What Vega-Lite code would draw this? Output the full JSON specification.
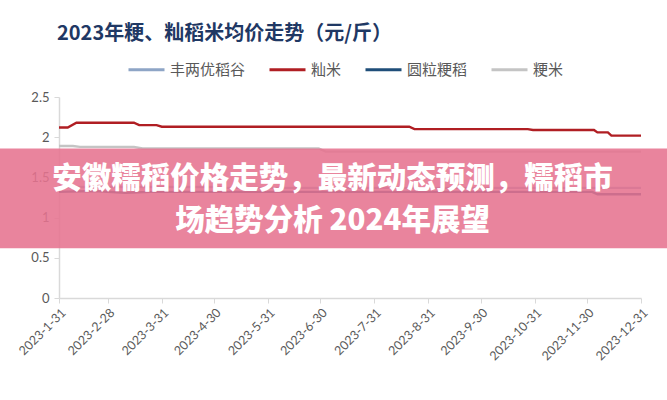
{
  "$schema": "https://vega.github.io/schema/vega-lite/v6.json",
  "width": 582,
  "height": 201,
  "autosize": {"type": "none"},
  "padding": {"left": 59, "top": 97, "right": 26, "bottom": 102},
  "background": "#ffffff",
  "config": {"view": {"stroke": null}, "font": "Noto Sans CJK SC"},
  "title": {
    "text": "2023年粳、籼稻米均价走势（元/斤）",
    "anchor": "start",
    "frame": "group",
    "fontSize": 20,
    "fontWeight": "bold",
    "color": "#1F3864",
    "font": "Noto Sans CJK SC",
    "offset": 6,
    "dx": -2
  },
  "datasets": {
    "prices": [
      {"series": "丰两优稻谷", "date": "2023-01-31", "price": 1.38},
      {"series": "丰两优稻谷", "date": "2023-04-30", "price": 1.38},
      {"series": "丰两优稻谷", "date": "2023-05-05", "price": 1.37},
      {"series": "丰两优稻谷", "date": "2023-12-31", "price": 1.37},
      {"series": "籼米", "date": "2023-01-31", "price": 2.12},
      {"series": "籼米", "date": "2023-02-05", "price": 2.12},
      {"series": "籼米", "date": "2023-02-10", "price": 2.18},
      {"series": "籼米", "date": "2023-03-15", "price": 2.18},
      {"series": "籼米", "date": "2023-03-18", "price": 2.15},
      {"series": "籼米", "date": "2023-03-28", "price": 2.15},
      {"series": "籼米", "date": "2023-03-31", "price": 2.13},
      {"series": "籼米", "date": "2023-08-20", "price": 2.13},
      {"series": "籼米", "date": "2023-08-23", "price": 2.1},
      {"series": "籼米", "date": "2023-10-27", "price": 2.1},
      {"series": "籼米", "date": "2023-10-30", "price": 2.09},
      {"series": "籼米", "date": "2023-12-04", "price": 2.09},
      {"series": "籼米", "date": "2023-12-06", "price": 2.06},
      {"series": "籼米", "date": "2023-12-12", "price": 2.06},
      {"series": "籼米", "date": "2023-12-14", "price": 2.02},
      {"series": "籼米", "date": "2023-12-31", "price": 2.02},
      {"series": "圆粒粳稻", "date": "2023-01-31", "price": 1.32},
      {"series": "圆粒粳稻", "date": "2023-02-20", "price": 1.33},
      {"series": "圆粒粳稻", "date": "2023-03-10", "price": 1.31},
      {"series": "圆粒粳稻", "date": "2023-03-25", "price": 1.32},
      {"series": "圆粒粳稻", "date": "2023-12-03", "price": 1.32},
      {"series": "圆粒粳稻", "date": "2023-12-06", "price": 1.29},
      {"series": "圆粒粳稻", "date": "2023-12-31", "price": 1.29},
      {"series": "粳米", "date": "2023-01-31", "price": 1.89},
      {"series": "粳米", "date": "2023-02-08", "price": 1.89},
      {"series": "粳米", "date": "2023-02-12", "price": 1.88},
      {"series": "粳米", "date": "2023-03-15", "price": 1.88},
      {"series": "粳米", "date": "2023-03-20", "price": 1.86},
      {"series": "粳米", "date": "2023-06-29", "price": 1.86},
      {"series": "粳米", "date": "2023-07-03", "price": 1.82},
      {"series": "粳米", "date": "2023-12-31", "price": 1.82}
    ],
    "banner": [
      {"date": "2022-12-10", "date2": "2024-02-01", "price": 0.62, "price2": 1.86}
    ],
    "caption": [
      {"date": "2023-07-07", "price": 1.48, "text": "安徽糯稻价格走势，最新动态预测，糯稻市"},
      {"date": "2023-07-07", "price": 0.96, "text": "场趋势分析 2024年展望"}
    ]
  },
  "layer": [
    {
      "data": {"name": "prices"},
      "mark": {"type": "line", "strokeWidth": 2.4},
      "encoding": {
        "x": {
          "field": "date",
          "type": "temporal",
          "scale": {
            "type": "utc",
            "domain": [
              {"year": 2023, "month": 1, "date": 31, "utc": true},
              {"year": 2023, "month": 12, "date": 31, "utc": true}
            ]
          },
          "axis": {
            "title": null,
            "values": [
              {"year": 2023, "month": 1, "date": 31, "utc": true},
              {"year": 2023, "month": 2, "date": 28, "utc": true},
              {"year": 2023, "month": 3, "date": 31, "utc": true},
              {"year": 2023, "month": 4, "date": 30, "utc": true},
              {"year": 2023, "month": 5, "date": 31, "utc": true},
              {"year": 2023, "month": 6, "date": 30, "utc": true},
              {"year": 2023, "month": 7, "date": 31, "utc": true},
              {"year": 2023, "month": 8, "date": 31, "utc": true},
              {"year": 2023, "month": 9, "date": 30, "utc": true},
              {"year": 2023, "month": 10, "date": 31, "utc": true},
              {"year": 2023, "month": 11, "date": 30, "utc": true},
              {"year": 2023, "month": 12, "date": 31, "utc": true}
            ],
            "labelExpr": "utcFormat(datum.value, '%Y-%-m-%-d')",
            "labelAngle": -45,
            "labelFont": "Lato",
            "labelFontSize": 12.5,
            "labelColor": "#595959",
            "labelOverlap": false,
            "labelFlush": false,
            "labelPadding": 3,
            "domainColor": "#D9D9D9",
            "domainWidth": 1.5,
            "tickColor": "#D9D9D9",
            "tickSize": 5,
            "grid": false
          }
        },
        "y": {
          "field": "price",
          "type": "quantitative",
          "scale": {"domain": [0, 2.5], "nice": false, "zero": true},
          "axis": {
            "title": null,
            "values": [0, 0.5, 1, 1.5, 2, 2.5],
            "format": "~g",
            "labelOverlap": false,
            "labelFont": "Lato",
            "labelFontSize": 13,
            "labelColor": "#595959",
            "labelPadding": 5,
            "domainColor": "#D9D9D9",
            "domainWidth": 1.5,
            "tickColor": "#D9D9D9",
            "tickSize": 5,
            "grid": false
          }
        },
        "color": {
          "field": "series",
          "type": "nominal",
          "scale": {
            "domain": ["丰两优稻谷", "籼米", "圆粒粳稻", "粳米"],
            "range": ["#8EA5C6", "#B01E23", "#1F4E79", "#C4C4C4"]
          },
          "legend": {
            "orient": "none",
            "legendX": 68,
            "legendY": -47,
            "direction": "horizontal",
            "title": null,
            "symbolType": "stroke",
            "symbolSize": 1296,
            "symbolStrokeWidth": 3,
            "labelFont": "Noto Sans CJK SC",
            "labelFontSize": 15,
            "labelColor": "#595959",
            "labelOffset": 4,
            "columnPadding": 17
          }
        }
      }
    },
    {
      "data": {"name": "banner"},
      "mark": {"type": "rect", "fill": "#E6738F", "opacity": 0.88},
      "encoding": {
        "x": {"field": "date", "type": "temporal"},
        "x2": {"field": "date2"},
        "y": {"field": "price", "type": "quantitative"},
        "y2": {"field": "price2"}
      }
    },
    {
      "data": {"name": "caption"},
      "mark": {"type": "text", "color": "#ffffff", "fontSize": 29.5, "fontWeight": 900, "font": "Noto Sans CJK SC", "align": "center", "baseline": "middle"},
      "encoding": {
        "x": {"field": "date", "type": "temporal"},
        "y": {"field": "price", "type": "quantitative"},
        "text": {"field": "text", "type": "nominal"}
      }
    }
  ]
}
